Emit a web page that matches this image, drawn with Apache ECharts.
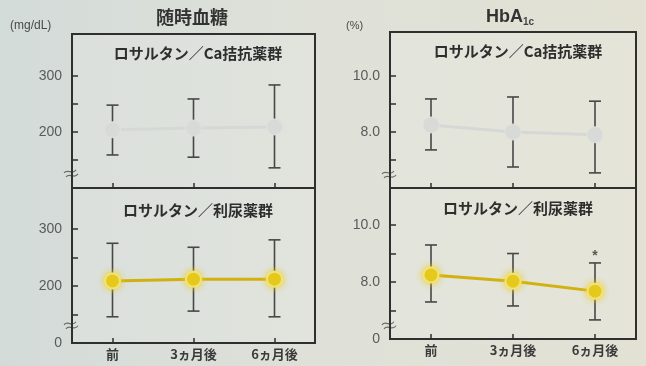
<!DOCTYPE html>
<html>
<head>
<meta charset="utf-8">
<script src="https://cdn.jsdelivr.net/npm/echarts@6/dist/echarts.min.js"></script>
<style>
  html, body { margin: 0; padding: 0; }
  #chart { width: 646px; height: 366px; }
</style>
</head>
<body>
<div id="chart"></div>
<script>
// Time points
const categories = ['前', '3ヵ月後', '6ヵ月後'];

// Random blood glucose (mg/dL): mean and mean±SD
const glucoseCaMean = [204, 207, 209];
const glucoseCaHigh = [248, 259, 284];
const glucoseCaLow = [159, 155, 136];
const glucoseDiuMean = [209, 212, 212];
const glucoseDiuHigh = [275, 268, 281];
const glucoseDiuLow = [146, 156, 146];

// HbA1c (%): mean and mean±SD
const hbaCaMean = [8.25, 8.0, 7.9];
const hbaCaHigh = [9.18, 9.25, 9.1];
const hbaCaLow = [7.36, 6.75, 6.54];
const hbaDiuMean = [8.25, 8.03, 7.68];
const hbaDiuHigh = [9.3, 9.0, 8.67];
const hbaDiuLow = [7.3, 7.16, 6.67];
const hbaDiuSig = ['', '', '*'];

// Axis ticks and labels
const glucoseTicks = [150, 200, 250, 300];
const glucoseLabels = [200, 300];
const hbaTicks = [7, 8, 9, 10];
const hbaLabels = [8, 10];

const groupCa = 'ロサルタン／Ca拮抗薬群';
const groupDiu = 'ロサルタン／利尿薬群';

const JP = '"Noto Sans CJK JP", "Noto Sans", sans-serif';
const chart = echarts.init(document.getElementById('chart'));

const grids = [
  { left: 72, top: 34, width: 243, height: 154 },
  { left: 72, top: 188, width: 243, height: 155 },
  { left: 390, top: 32, width: 246, height: 156 },
  { left: 390, top: 188, width: 246, height: 151 }
].map(g => Object.assign(g, {
  show: true, borderColor: '#2f2f2f', borderWidth: 2,
  backgroundColor: 'rgba(255,255,255,0.10)'
}));

function xAxis(gridIndex, showLabels) {
  return {
    type: 'category', gridIndex, data: categories, boundaryGap: true,
    axisLine: { show: true, lineStyle: { color: '#2f2f2f', width: 2 } },
    axisTick: { show: true, inside: true, alignWithLabel: true, length: 5,
      lineStyle: { color: '#2f2f2f', width: 1.5 } },
    axisLabel: { show: showLabels, margin: 5, color: '#3a3a3a',
      fontFamily: JP, fontWeight: 'bold', fontSize: 13 },
    splitLine: { show: false }
  };
}

function yAxis(gridIndex, min, max, ticks, labels, zeroAtMin, digits) {
  const labelValues = zeroAtMin ? [min].concat(labels) : labels.slice();
  return {
    type: 'value', gridIndex, min, max,
    axisLine: { show: true, lineStyle: { color: '#2f2f2f', width: 2 } },
    axisTick: { show: true, inside: true, length: 6, customValues: ticks,
      lineStyle: { color: '#2f2f2f', width: 1.5 } },
    axisLabel: {
      show: true, customValues: labelValues, margin: 10,
      color: '#5a5a5a', fontSize: 14, fontFamily: '"Liberation Sans Narrow", "Liberation Sans", sans-serif',
      formatter: v => (zeroAtMin && v === min) ? '0' : v.toFixed(digits)
    },
    splitLine: { show: false }
  };
}

function errorSeries(idx, low, high) {
  return {
    type: 'custom', xAxisIndex: idx, yAxisIndex: idx, z: 2,
    data: categories.map((c, i) => [i, low[i], high[i]]),
    encode: { x: 0, y: [1, 2] },
    renderItem(params, api) {
      const x = api.value(0);
      const lo = api.coord([x, api.value(1)]);
      const hi = api.coord([x, api.value(2)]);
      const w = 6;
      const style = { stroke: '#474747', lineWidth: 1.6 };
      return {
        type: 'group',
        children: [
          { type: 'line', shape: { x1: hi[0], y1: hi[1], x2: lo[0], y2: lo[1] }, style },
          { type: 'line', shape: { x1: hi[0] - w, y1: hi[1], x2: hi[0] + w, y2: hi[1] }, style },
          { type: 'line', shape: { x1: lo[0] - w, y1: lo[1], x2: lo[0] + w, y2: lo[1] }, style }
        ]
      };
    }
  };
}

function meanSeries(idx, values, yellow) {
  return {
    type: 'line', xAxisIndex: idx, yAxisIndex: idx, z: 3,
    data: values, symbol: 'circle', symbolSize: yellow ? 15 : 16,
    lineStyle: yellow
      ? { color: '#d2b00e', width: 3 }
      : { color: '#d6d8d6', width: 3 },
    itemStyle: yellow
      ? { color: '#e4c81c', borderColor: '#f3e27a', borderWidth: 2,
          shadowBlur: 6, shadowColor: 'rgba(235,210,30,0.9)' }
      : { color: '#d8dad8', borderColor: '#e0e2e0', borderWidth: 1 },
    emphasis: { disabled: true },
    animation: false
  };
}

const option = {
  animation: false,
  backgroundColor: {
    type: 'linear', x: 0, y: 0, x2: 1, y2: 0,
    colorStops: [
      { offset: 0, color: '#d3dbd9' },
      { offset: 0.5, color: '#dfe1d8' },
      { offset: 1, color: '#e2e1d4' }
    ]
  },
  title: [
    { text: '随時血糖', left: 187, top: 3, textAlign: 'center',
      textStyle: { fontFamily: JP, fontSize: 18, fontWeight: 'bold', color: '#333' } },
    { text: 'HbA{sub|1c}', left: 505, top: 2, textAlign: 'center',
      textStyle: { fontFamily: '"Liberation Sans", sans-serif', fontSize: 18, color: '#333',
        rich: { sub: { fontSize: 10, color: '#444', verticalAlign: 'bottom', padding: [10, 0, 0, 0] } } } },
    { text: '(mg/dL)', left: 5, top: 15,
      textStyle: { fontFamily: '"Liberation Sans", sans-serif', fontSize: 12, fontWeight: 'normal', color: '#4a4a4a' } },
    { text: '(%)', left: 341, top: 15,
      textStyle: { fontFamily: '"Liberation Sans", sans-serif', fontSize: 11, fontWeight: 'normal', color: '#4a4a4a' } },
    { text: groupCa, left: 193, top: 41, textAlign: 'center',
      textStyle: { fontFamily: JP, fontSize: 15, fontWeight: 'bold', color: '#2e2e2e' } },
    { text: groupDiu, left: 193, top: 198, textAlign: 'center',
      textStyle: { fontFamily: JP, fontSize: 15, fontWeight: 'bold', color: '#2e2e2e' } },
    { text: groupCa, left: 513, top: 39, textAlign: 'center',
      textStyle: { fontFamily: JP, fontSize: 15, fontWeight: 'bold', color: '#2e2e2e' } },
    { text: groupDiu, left: 513, top: 196, textAlign: 'center',
      textStyle: { fontFamily: JP, fontSize: 15, fontWeight: 'bold', color: '#2e2e2e' } }
  ],
  grid: grids,
  xAxis: [xAxis(0, false), xAxis(1, true), xAxis(2, false), xAxis(3, true)],
  yAxis: [
    yAxis(0, 100, 375, glucoseTicks, glucoseLabels, false, 0),
    yAxis(1, 100, 372, glucoseTicks, glucoseLabels, true, 0),
    yAxis(2, 6, 11.57, hbaTicks, hbaLabels, false, 1),
    yAxis(3, 6, 11.3, hbaTicks, hbaLabels, true, 1)
  ],
  series: [
    errorSeries(0, glucoseCaLow, glucoseCaHigh),
    meanSeries(0, glucoseCaMean, false),
    errorSeries(1, glucoseDiuLow, glucoseDiuHigh),
    meanSeries(1, glucoseDiuMean, true),
    errorSeries(2, hbaCaLow, hbaCaHigh),
    meanSeries(2, hbaCaMean, false),
    errorSeries(3, hbaDiuLow, hbaDiuHigh),
    meanSeries(3, hbaDiuMean, true),
    {
      // significance marker above the upper whisker
      type: 'scatter', xAxisIndex: 3, yAxisIndex: 3, z: 4,
      symbolSize: 1, itemStyle: { color: 'rgba(0,0,0,0)' },
      data: categories.map((c, i) => [i, hbaDiuHigh[i], hbaDiuSig[i]]),
      label: { show: true, position: 'top', distance: -1, color: '#333',
        fontSize: 14, fontWeight: 'bold', formatter: p => p.value[2] }
    }
  ]
};

chart.setOption(option);

// Axis-break marks near the bottom of each y axis
const breaks = [[0, 127], [1, 132], [2, 6.5], [3, 6.5]];
const breakGraphics = breaks.map(([i, v]) => {
  const p = chart.convertToPixel({ gridIndex: i }, [0, v]);
  const x = grids[i].left;
  return {
    type: 'group', x: x - 1, y: p[1],
    children: [
      { type: 'rect', shape: { x: -2, y: -2, width: 5, height: 5 },
        style: { fill: '#dde0d8' } },
      { type: 'bezierCurve', shape: { x1: -7, y1: 0, cpx1: -3, cpy1: -5, cpx2: 1, cpy2: 3, x2: 5, y2: -3 },
        style: { stroke: '#6a6a6a', lineWidth: 1.2, fill: null } },
      { type: 'bezierCurve', shape: { x1: -5, y1: 4, cpx1: -1, cpy1: -1, cpx2: 3, cpy2: 7, x2: 7, y2: 1 },
        style: { stroke: '#6a6a6a', lineWidth: 1.2, fill: null } }
    ]
  };
});
chart.setOption({ graphic: breakGraphics });
</script>
</body>
</html>
